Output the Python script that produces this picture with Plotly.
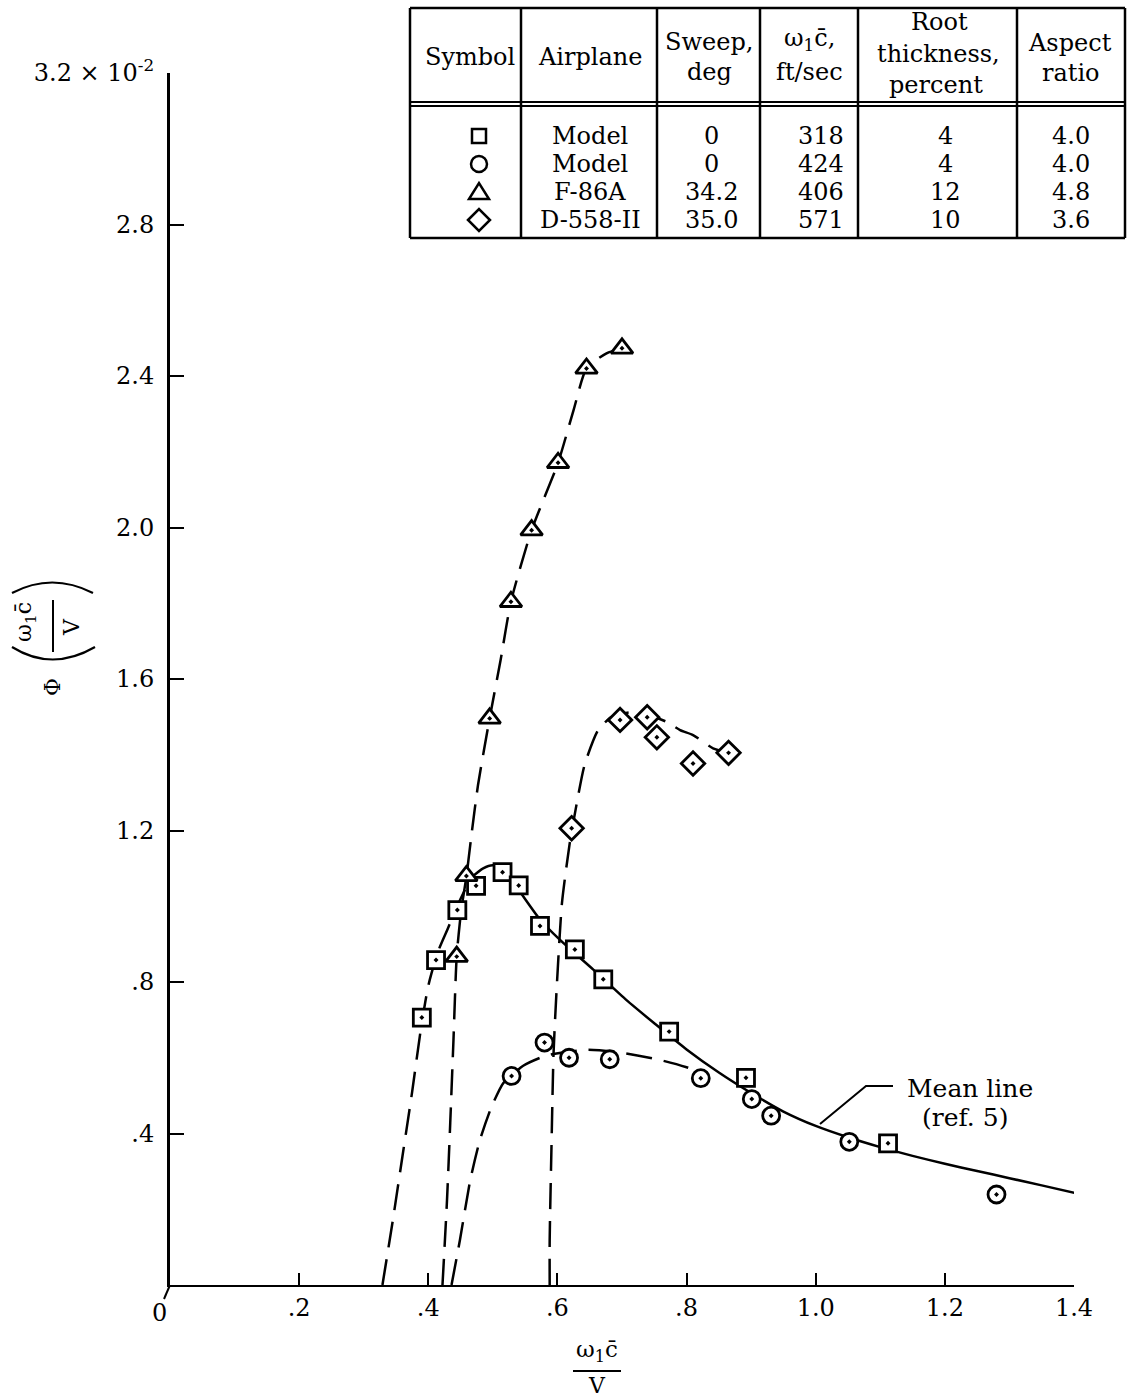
import plotly.graph_objects as go

# ---------------- data ----------------
# measured points
sq_x = [0.390, 0.412, 0.445, 0.474, 0.515, 0.540, 0.573, 0.627, 0.671, 0.773, 0.892, 1.112]
sq_y = [0.706, 0.858, 0.990, 1.054, 1.090, 1.055, 0.948, 0.886, 0.807, 0.669, 0.547, 0.374]

ci_x = [0.529, 0.580, 0.618, 0.681, 0.822, 0.901, 0.931, 1.052, 1.280]
ci_y = [0.552, 0.640, 0.600, 0.596, 0.546, 0.491, 0.447, 0.378, 0.239]

tr_x = [0.444, 0.459, 0.495, 0.528, 0.560, 0.601, 0.645, 0.700]
tr_y = [0.867, 1.080, 1.496, 1.804, 1.993, 2.171, 2.420, 2.473]

di_x = [0.622, 0.697, 0.739, 0.754, 0.810, 0.865]
di_y = [1.206, 1.492, 1.499, 1.446, 1.377, 1.405]

# faired curves
sq_fair_x = [0.329, 0.345, 0.360, 0.375, 0.388, 0.400, 0.415, 0.430, 0.449, 0.466]
sq_fair_y = [0.000, 0.170, 0.340, 0.510, 0.670, 0.790, 0.880, 0.940, 1.016, 1.075]

mean_x = [0.466, 0.485, 0.500, 0.515, 0.537, 0.573, 0.604, 0.656, 0.707, 0.750, 0.800,
          0.850, 0.900, 0.950, 1.000, 1.050, 1.100, 1.150, 1.200, 1.250, 1.300, 1.350, 1.402]
mean_y = [1.075, 1.100, 1.108, 1.098, 1.050, 0.965, 0.911, 0.832, 0.752, 0.691, 0.622,
          0.561, 0.507, 0.458, 0.420, 0.390, 0.364, 0.341, 0.320, 0.301, 0.282, 0.263, 0.243]

ci_fair_x = [0.436, 0.449, 0.465, 0.480, 0.498, 0.516, 0.530, 0.547, 0.583, 0.645, 0.697, 0.759, 0.800, 0.822]
ci_fair_y = [0.000, 0.119, 0.277, 0.383, 0.471, 0.533, 0.555, 0.579, 0.606, 0.621, 0.614, 0.594, 0.575, 0.562]

tr_fair_x = [0.422, 0.429, 0.434, 0.439, 0.444, 0.451, 0.459, 0.467, 0.477, 0.495, 0.512,
             0.528, 0.560, 0.601, 0.625, 0.645, 0.676, 0.700]
tr_fair_y = [0.000, 0.224, 0.428, 0.647, 0.867, 0.990, 1.078, 1.190, 1.320, 1.496, 1.650,
             1.804, 1.993, 2.171, 2.310, 2.420, 2.460, 2.473]

di_fair_x = [0.588, 0.588, 0.591, 0.594, 0.599, 0.607, 0.619, 0.629, 0.642, 0.663, 0.684,
             0.712, 0.740, 0.769, 0.790, 0.810, 0.841, 0.865]
di_fair_y = [0.000, 0.119, 0.383, 0.612, 0.788, 1.008, 1.166, 1.263, 1.373, 1.465, 1.500,
             1.512, 1.505, 1.487, 1.465, 1.452, 1.417, 1.405]

# axis ticks
x_ticks = [0, 0.2, 0.4, 0.6, 0.8, 1.0, 1.2, 1.4]
x_ticktext = ["", ".2", ".4", ".6", ".8", "1.0", "1.2", "1.4"]
y_ticks = [0, 0.4, 0.8, 1.2, 1.6, 2.0, 2.4, 2.8, 3.2]
y_ticktext = ["", ".4", ".8", "1.2", "1.6", "2.0", "2.4", "2.8", "3.2 \u00d7 10<sup>-2</sup>"]

# table
tbl_symbols = ["square", "circle", "triangle", "diamond"]
tbl_airplane = ["Model", "Model", "F-86A", "D-558-II"]
tbl_sweep = ["0", "0", "34.2", "35.0"]
tbl_omega = ["318", "424", "406", "571"]
tbl_root = ["4", "4", "12", "10"]
tbl_aspect = ["4.0", "4.0", "4.8", "3.6"]

# ---------------- layout geometry ----------------
W, H = 1128, 1397
L, R, T, B = 170, 54, 73, 112
FONT = "DejaVu Serif"


def px(x):
    return (x - L) / (W - L - R)


def py(y):
    return (H - B - y) / (H - T - B)


fig = go.Figure()
DASH = "26px,12px"


def fair(xs, ys, dash=DASH):
    fig.add_trace(go.Scatter(x=xs, y=ys, mode="lines", showlegend=False, hoverinfo="skip",
                             line=dict(color="black", width=2.5, dash=dash,
                                       shape="spline", smoothing=0.6)))


fair(sq_fair_x, sq_fair_y)
fair(ci_fair_x, ci_fair_y)
fair(tr_fair_x, tr_fair_y)
fair(di_fair_x, di_fair_y)
fair(mean_x, mean_y, dash="solid")


def pts(xs, ys, sym, size):
    fig.add_trace(go.Scatter(x=xs, y=ys, mode="markers", showlegend=False, cliponaxis=False,
                             marker=dict(symbol=sym, size=size, color="white",
                                         line=dict(color="black", width=2.8))))


pts(sq_x, sq_y, "square-dot", 17)
pts(ci_x, ci_y, "circle-dot", 17)
pts(tr_x, tr_y, "triangle-up-dot", 19)
pts(di_x, di_y, "diamond-dot", 18)

shapes = []
annotations = []


def line(x0, y0, x1, y1, w=2.5):
    shapes.append(dict(type="line", xref="paper", yref="paper",
                       x0=px(x0), y0=py(y0), x1=px(x1), y1=py(y1),
                       line=dict(color="black", width=w)))


def text(x, y, s, size=23, angle=0, xanchor="center"):
    annotations.append(dict(xref="paper", yref="paper", x=px(x), y=py(y), text=s,
                            showarrow=False, xanchor=xanchor, yanchor="middle",
                            textangle=angle, font=dict(family=FONT, size=size, color="black")))


def path(points, close=False, w=2.5):
    d = "M " + " L ".join(f"{px(a):.5f},{py(b):.5f}" for a, b in points)
    if close:
        d += " Z"
    shapes.append(dict(type="path", xref="paper", yref="paper", path=d,
                       line=dict(color="black", width=w)))


def qcurve(p0, c, p1, w=2.2):
    d = (f"M {px(p0[0]):.5f},{py(p0[1]):.5f} Q {px(c[0]):.5f},{py(c[1]):.5f} "
         f"{px(p1[0]):.5f},{py(p1[1]):.5f}")
    shapes.append(dict(type="path", xref="paper", yref="paper", path=d,
                       line=dict(color="black", width=w)))


# ---------------- table ----------------
TL, TR_, TT, TB = 410, 1125, 8, 238
col_lines = [521, 657, 760, 858, 1017]
line(TL, TT, TR_, TT)
line(TL, TB, TR_, TB)
line(TL, TT, TL, TB)
line(TR_, TT, TR_, TB)
for cx in col_lines:
    line(cx, TT, cx, TB)
line(TL, 102, TR_, 102, 1.8)
line(TL, 106, TR_, 106, 1.8)

text(470, 57, "Symbol", 24)
text(590, 57, "Airplane", 24)
text(709, 42, "Sweep,", 24)
text(709, 72, "deg", 24)
text(809, 40, "\u03c9<sub>1</sub>c\u0304,", 24)
text(809, 72, "ft/sec", 24)
text(939, 22, "Root", 24)
text(938, 54, "thickness,", 24)
text(936, 85, "percent", 24)
text(1070, 43, "Aspect", 24)
text(1071, 73, "ratio", 24)

row_y = [136, 164, 192, 220]
for i, yy in enumerate(row_y):
    sym = tbl_symbols[i]
    sx = 479
    if sym == "square":
        shapes.append(dict(type="rect", xref="paper", yref="paper",
                           x0=px(sx - 7), x1=px(sx + 7), y0=py(yy - 7), y1=py(yy + 7),
                           line=dict(color="black", width=2.5)))
    elif sym == "circle":
        shapes.append(dict(type="circle", xref="paper", yref="paper",
                           x0=px(sx - 8), x1=px(sx + 8), y0=py(yy - 8), y1=py(yy + 8),
                           line=dict(color="black", width=2.5)))
    elif sym == "triangle":
        path([(sx - 10, yy + 7), (sx + 10, yy + 7), (sx, yy - 9)], close=True)
    else:
        path([(sx - 11, yy), (sx, yy - 11), (sx + 11, yy), (sx, yy + 11)], close=True)
    text(590, yy, tbl_airplane[i], 24)
    text(711, yy, tbl_sweep[i], 24)
    text(821, yy, tbl_omega[i], 24)
    text(945, yy, tbl_root[i], 24)
    text(1071, yy, tbl_aspect[i], 24)

# ---------------- axis labels ----------------
# x label: fraction
text(597, 1351, "\u03c9<sub>1</sub>c\u0304", 23)
line(573, 1371, 621, 1371, 2)
text(597, 1385, "V", 22)
text(159, 1313, "0", 24)
# origin break mark
line(170, 1285, 164, 1299, 2)

# y label: Phi(omega c / V), rotated
text(52, 687, "\u03a6", 22, angle=-90)
qcurve((12, 593), (52, 572), (93, 593))
qcurve((12, 647), (52, 672), (95, 647))
line(53, 600, 53, 652, 2)
text(25, 622, "\u03c9<sub>1</sub>c\u0304", 22, angle=-90)
text(71, 627, "V", 22, angle=-90)

# mean line note
path([(820, 1124), (866, 1086), (893, 1086)], w=2)
text(970, 1088, "Mean line", 25)
text(965, 1117, "(ref. 5)", 25)

fig.update_layout(
    width=W, height=H,
    margin=dict(l=L, r=R, t=T, b=B, pad=0),
    paper_bgcolor="white", plot_bgcolor="white",
    font=dict(family=FONT, size=24, color="black"),
    showlegend=False,
    shapes=shapes,
    annotations=annotations,
    xaxis=dict(range=[0, 1.4], tickvals=x_ticks, ticktext=x_ticktext,
               showgrid=False, zeroline=False, showline=True, linecolor="black", linewidth=2,
               ticks="inside", ticklen=12, tickwidth=2, tickcolor="black",
               tickfont=dict(family=FONT, size=24)),
    yaxis=dict(range=[0, 3.2], tickvals=y_ticks, ticktext=y_ticktext,
               showgrid=False, zeroline=False, showline=True, linecolor="black", linewidth=3,
               ticks="inside", ticklen=14, tickwidth=2, tickcolor="black",
               ticklabelstandoff=8,
               tickfont=dict(family=FONT, size=24)),
)

fig.write_html("out.html")
